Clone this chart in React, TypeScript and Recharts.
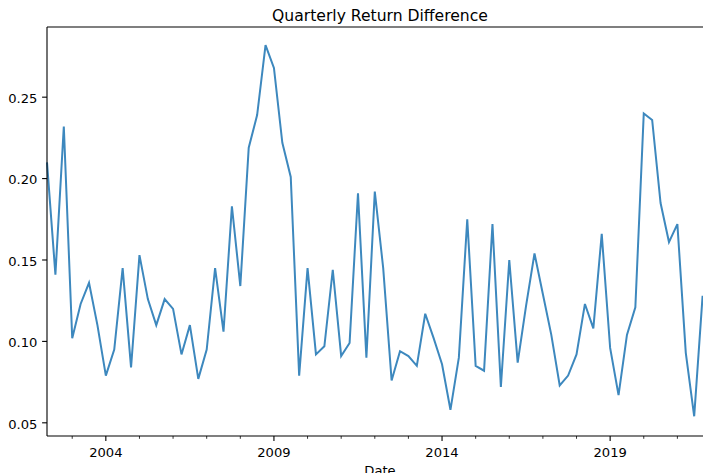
import { Line, LineChart, ReferenceLine, XAxis, YAxis } from 'recharts';

// quarterly series, first point is Q1 2002 (quarter end)
const firstQuarterYear = 2002.25;
const returnDiff = [
    0.210, 0.141, 0.232, 0.102, 0.123, 0.136, 0.110, 0.079,
    0.095, 0.145, 0.084, 0.153, 0.126, 0.110, 0.126, 0.120,
    0.092, 0.110, 0.077, 0.095, 0.145, 0.106, 0.183, 0.134,
    0.219, 0.239, 0.282, 0.268, 0.222, 0.201, 0.079, 0.145,
    0.092, 0.097, 0.144, 0.091, 0.099, 0.191, 0.090, 0.192,
    0.145, 0.076, 0.094, 0.091, 0.085, 0.117, 0.102, 0.086,
    0.058, 0.090, 0.175, 0.085, 0.082, 0.172, 0.072, 0.150,
    0.087, 0.122, 0.154, 0.129, 0.104, 0.073, 0.079, 0.092,
    0.123, 0.108, 0.166, 0.096, 0.067, 0.104, 0.121, 0.240,
    0.236, 0.185, 0.161, 0.172, 0.093, 0.054, 0.128,
];

const yearTicks = [2003, 2004, 2005, 2006, 2007, 2008, 2009, 2010, 2011, 2012,
    2013, 2014, 2015, 2016, 2017, 2018, 2019, 2020, 2021];
const majorYears = [2004, 2009, 2014, 2019];
const yTicks = [0.05, 0.1, 0.15, 0.2, 0.25];

const FONT = '"DejaVu Sans", sans-serif';
const LINE_COLOR = '#3d88be';
const TICK_FONT = 13.1;
const Y_MAX = 0.2931;

const data = returnDiff.map((v, i) => ({ t: firstQuarterYear + i * 0.25, v }));

function XTick({ x, y, payload }: any) {
    const major = majorYears.includes(payload.value);
    return (
        <g>
            <line x1={x} x2={x} y1={y} y2={y + (major ? 4.9 : 2.8)} stroke="#000" strokeWidth={major ? 1.1 : 0.8} />
            {major && (
                <text x={x} y={y + 20.6} textAnchor="middle" fontSize={TICK_FONT} fontFamily={FONT} fill="#000">
                    {payload.value}
                </text>
            )}
        </g>
    );
}

function YTick({ x, y, payload }: any) {
    return (
        <g>
            <line x1={x - 4.9} x2={x} y1={y} y2={y} stroke="#000" strokeWidth={1.1} />
            <text x={x - 9.7} y={y + 5.8} textAnchor="end" fontSize={TICK_FONT} fontFamily={FONT} fill="#000">
                {payload.value.toFixed(2)}
            </text>
        </g>
    );
}

export default function App() {
    return (
        <div style={{ position: 'fixed', left: 0, top: 0, width: 703, height: 473, overflow: 'hidden', background: '#fff' }}>
            <svg width={703} height={30} style={{ position: 'absolute', left: 0, top: 0 }}>
                <text x={380} y={20.7} textAnchor="middle" fontSize={15.6} fontFamily={FONT} fill="#000">
                    Quarterly Return Difference
                </text>
            </svg>
            <LineChart width={760} height={500} data={data} margin={{ top: 27, right: 49, bottom: 0, left: 0 }}>
                <XAxis
                    xAxisId="x"
                    dataKey="t"
                    type="number"
                    domain={[2002.25, 2022.0]}
                    ticks={yearTicks}
                    tick={<XTick />}
                    tickLine={false}
                    tickSize={0}
                    tickMargin={0}
                    height={64}
                    interval={0}
                    axisLine={{ stroke: '#000', strokeWidth: 1.1 }}
                    label={{
                        content: ({ viewBox }: any) => (
                            <text x={viewBox.x + viewBox.width / 2 + 1} y={viewBox.y + 39} textAnchor="middle" fontSize={TICK_FONT} fontFamily={FONT} fill="#000">
                                Date
                            </text>
                        ),
                    }}
                />
                <YAxis
                    yAxisId="y"
                    type="number"
                    domain={[0.0419, Y_MAX]}
                    ticks={yTicks}
                    width={47}
                    tick={<YTick />}
                    tickLine={false}
                    tickSize={0}
                    tickMargin={0}
                    interval={0}
                    allowDataOverflow
                    axisLine={{ stroke: '#000', strokeWidth: 1.1 }}
                />
                {/* top spine */}
                <ReferenceLine xAxisId="x" yAxisId="y" y={Y_MAX} stroke="#000" strokeWidth={1.1} ifOverflow="visible" />
                <Line
                    xAxisId="x"
                    yAxisId="y"
                    type="linear"
                    dataKey="v"
                    stroke={LINE_COLOR}
                    strokeWidth={2}
                    dot={false}
                    isAnimationActive={false}
                />
            </LineChart>
        </div>
    );
}
